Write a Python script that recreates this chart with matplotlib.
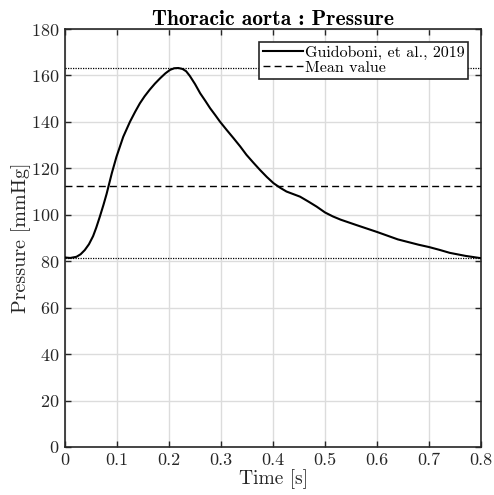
import numpy as np
import matplotlib.pyplot as plt

plt.rcParams['font.family'] = 'serif'
plt.rcParams['font.serif'] = ['cmr10']
plt.rcParams['mathtext.fontset'] = 'cm'
plt.rcParams['axes.formatter.use_mathtext'] = True

# data
t = [0.0, 0.01, 0.022, 0.03, 0.038, 0.046, 0.054, 0.06, 0.067, 0.074, 0.08,
     0.09, 0.099, 0.112, 0.125, 0.135, 0.144, 0.153, 0.163, 0.173, 0.183,
     0.193, 0.202, 0.21, 0.218, 0.226, 0.233, 0.240, 0.250, 0.260, 0.270,
     0.279, 0.289, 0.298, 0.311, 0.324, 0.337, 0.349, 0.362, 0.375, 0.388,
     0.401, 0.414, 0.426, 0.439, 0.452, 0.468, 0.484, 0.50, 0.515, 0.53,
     0.56, 0.60, 0.64, 0.68, 0.70, 0.72, 0.74, 0.77, 0.80]
pressure = [81.6, 81.4, 81.9, 83.0, 84.8, 87.3, 90.8, 94.4, 99.2, 104.3, 109.0,
            117.9, 125.0, 133.6, 140.1, 144.4, 148.0, 151.0, 153.9, 156.5, 158.8,
            160.9, 162.4, 163.1, 163.2, 162.8, 161.8, 159.8, 156.3, 152.3, 149.0,
            145.9, 142.9, 140.1, 136.5, 133.0, 129.4, 125.8, 122.5, 119.3, 116.3,
            113.6, 111.6, 110.0, 108.9, 107.8, 105.7, 103.5, 101.0, 99.3, 97.9,
            95.6, 92.6, 89.4, 87.1, 86.1, 84.9, 83.6, 82.3, 81.3]
p_max = 163.3
p_min = 81.3
p_mean = 112.4

fig = plt.figure(figsize=(4.94, 4.95), dpi=100)
ax = fig.add_axes([0.1316, 0.097, 0.8421, 0.8444])

ax.plot(t, pressure, color='k', lw=1.5, label='Guidoboni, et al., 2019', zorder=4)
ax.axhline(p_mean, color='k', ls='--', lw=1.0, dashes=(5, 3), label='Mean value', zorder=3)
ax.axhline(p_max, color='k', ls=':', lw=0.9, dashes=(1, 1), zorder=3)
ax.axhline(p_min, color='k', ls=':', lw=0.9, dashes=(1, 1), zorder=3)

ax.set_xlim(0, 0.8)
ax.set_ylim(0, 180)
ax.set_xticks(np.arange(0, 0.81, 0.1))
ax.set_xticklabels(['0', '0.1', '0.2', '0.3', '0.4', '0.5', '0.6', '0.7', '0.8'])
ax.set_yticks(np.arange(0, 181, 20))
ax.grid(True, color='#dcdcdc', lw=1.0)
ax.set_axisbelow(True)
ax.tick_params(direction='in', top=True, right=True, length=4, width=1.0,
               labelsize=13, colors='#262626', labelcolor='#262626', pad=4)
for s in ax.spines.values():
    s.set_linewidth(1.2)
    s.set_color('#262626')

ax.set_xlabel('Time [s]', fontsize=14, color='#262626', labelpad=1)
ax.set_ylabel('Pressure [mmHg]', fontsize=14.5, color='#262626', labelpad=0)
ax.set_title('Thoracic aorta : Pressure', fontsize=15.5, fontname='cmb10', pad=3)

leg = ax.legend(loc='upper right', fontsize=11.5, frameon=True, fancybox=False,
                framealpha=1, edgecolor='#262626', handlelength=2.5,
                borderpad=0.25, labelspacing=0.05, handletextpad=0.1,
                borderaxespad=0.8)
leg.get_frame().set_linewidth(1.2)

plt.savefig('out.png', dpi=100)
